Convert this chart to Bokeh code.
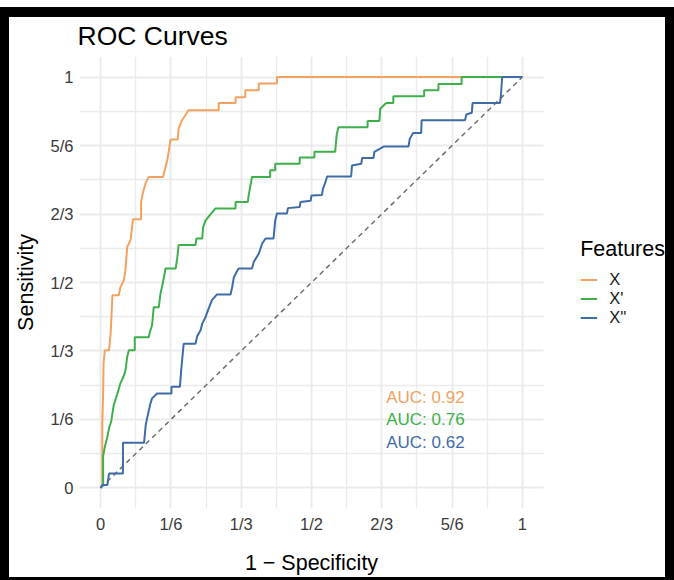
from bokeh.plotting import figure
from bokeh.models import FixedTicker, Legend, LegendItem, LinearAxis, BoxAnnotation, Range1d
from bokeh.embed import file_html
from bokeh.resources import INLINE
from bokeh.core.properties import value

# ---------------- data ----------------
features = ["X", "X'", "X''"]
auc_values = [0.92, 0.76, 0.62]

fpr_x = [0, 0.004, 0.004, 0.006, 0.007, 0.010, 0.020, 0.024, 0.028, 0.043,
         0.047, 0.055, 0.059, 0.063, 0.071, 0.077, 0.096, 0.096, 0.100, 0.107,
         0.114, 0.148, 0.152, 0.158, 0.162, 0.166, 0.183, 0.185, 0.193, 0.201,
         0.208, 0.280, 0.280, 0.320, 0.320, 0.343, 0.343, 0.375, 0.375, 0.418,
         0.418, 1.0]
tpr_x = [0, 0.007, 0.157, 0.230, 0.303, 0.335, 0.335, 0.379, 0.469, 0.469,
         0.488, 0.505, 0.530, 0.586, 0.603, 0.654, 0.654, 0.696, 0.717, 0.742,
         0.757, 0.757, 0.773, 0.797, 0.822, 0.848, 0.848, 0.875, 0.895, 0.907,
         0.919, 0.919, 0.937, 0.937, 0.951, 0.951, 0.968, 0.968, 0.984, 0.984,
         1.0, 1.0]

fpr_x1 = [0, 0.006, 0.006, 0.010, 0.016, 0.020, 0.025, 0.031, 0.040, 0.047,
          0.054, 0.059, 0.063, 0.067, 0.081, 0.081, 0.114, 0.117, 0.122, 0.126,
          0.138, 0.142, 0.148, 0.154, 0.178, 0.182, 0.185, 0.225, 0.227, 0.241,
          0.243, 0.249, 0.259, 0.272, 0.320, 0.320, 0.349, 0.351, 0.359, 0.402,
          0.402, 0.414, 0.414, 0.472, 0.472, 0.507, 0.507, 0.556, 0.560, 0.564,
          0.633, 0.633, 0.661, 0.663, 0.677, 0.694, 0.694, 0.767, 0.767, 0.801,
          0.801, 0.856, 0.856, 1.0]
tpr_x1 = [0, 0.007, 0.077, 0.100, 0.124, 0.145, 0.161, 0.201, 0.230, 0.255,
          0.270, 0.286, 0.319, 0.335, 0.335, 0.367, 0.367, 0.380, 0.396, 0.440,
          0.440, 0.473, 0.501, 0.534, 0.534, 0.562, 0.591, 0.591, 0.607, 0.607,
          0.635, 0.651, 0.664, 0.680, 0.680, 0.696, 0.696, 0.712, 0.757, 0.757,
          0.773, 0.773, 0.789, 0.789, 0.804, 0.804, 0.818, 0.818, 0.862, 0.878,
          0.878, 0.893, 0.893, 0.923, 0.937, 0.937, 0.953, 0.953, 0.968, 0.968,
          0.983, 0.983, 1.0, 1.0]

fpr_x2 = [0, 0.004, 0.016, 0.020, 0.053, 0.053, 0.103, 0.107, 0.111, 0.118,
          0.122, 0.134, 0.168, 0.168, 0.188, 0.191, 0.197, 0.225, 0.229, 0.237,
          0.241, 0.249, 0.253, 0.264, 0.276, 0.308, 0.312, 0.316, 0.327, 0.359,
          0.363, 0.375, 0.383, 0.391, 0.410, 0.414, 0.418, 0.442, 0.444, 0.472,
          0.474, 0.498, 0.500, 0.525, 0.527, 0.532, 0.537, 0.594, 0.596, 0.618,
          0.620, 0.647, 0.649, 0.672, 0.730, 0.733, 0.741, 0.760, 0.761, 0.864,
          0.867, 0.880, 0.882, 0.947, 0.949, 0.952, 1.0]
tpr_x2 = [0, 0.007, 0.007, 0.035, 0.035, 0.110, 0.110, 0.153, 0.173, 0.205,
          0.218, 0.230, 0.230, 0.246, 0.246, 0.286, 0.351, 0.351, 0.369, 0.384,
          0.400, 0.416, 0.428, 0.457, 0.471, 0.471, 0.489, 0.513, 0.534, 0.534,
          0.550, 0.570, 0.595, 0.607, 0.607, 0.651, 0.668, 0.668, 0.681, 0.684,
          0.696, 0.699, 0.712, 0.713, 0.728, 0.741, 0.758, 0.758, 0.785, 0.789,
          0.803, 0.803, 0.818, 0.831, 0.831, 0.850, 0.864, 0.864, 0.895, 0.895,
          0.909, 0.913, 0.937, 0.937, 0.955, 1.0, 1.0]

chance_x = [0, 1]
chance_y = [0, 1]

tick_values = [0, 1/6, 1/3, 1/2, 2/3, 5/6, 1]
tick_labels = ["0", "1/6", "1/3", "1/2", "2/3", "5/6", "1"]
minor_values = [1/12, 3/12, 5/12, 7/12, 9/12, 11/12]

x_title = "1 \u2212 Specificity"
y_title = "Sensitivity"

# ---------------- style / layout ----------------
FONT = "Liberation Sans"
colors = ["#F3A15F", "#3DB04B", "#3E6CA8"]
grid_color = "#EBEBEB"

# canvas (656 x 560) sits at page x=9, y=17, inside a black frame.
W, H = 656, 560
BL, BT, BB = 70, 39, 69
PANEL_W = 464                      # width of the data panel (x from -0.05 to 1.05)
LO, HI = -0.05, 1.05
# the frame is extended to the right edge so the legend can sit in it
x_end = LO + (HI - LO) * (W - BL) / PANEL_W

p = figure(width=W, height=H,
           x_range=Range1d(LO, x_end), y_range=Range1d(LO, HI),
           output_backend="svg", toolbar_location=None,
           min_border_left=BL, min_border_right=0,
           min_border_top=BT, min_border_bottom=BB,
           background_fill_color="white", border_fill_color="white",
           outline_line_color=None,
           styles={"margin-left": "9px", "margin-top": "17px",
                   "box-shadow": "0px -1px 0px 9px black"})

p.title.text = "ROC Curves"
p.title.text_font = FONT
p.title.text_font_size = "26.5px"
p.title.text_font_style = "normal"
p.title.text_color = "black"
p.title.align = "left"
p.title.vertical_align = "top"
p.title.offset = -2
p.title.standoff = 7

xaxis = p.xaxis[0]
yaxis = p.yaxis[0]
for ax in (xaxis, yaxis):
    ax.ticker = FixedTicker(ticks=tick_values, minor_ticks=minor_values)
    ax.major_label_overrides = {v: l for v, l in zip(tick_values, tick_labels)}
    ax.major_label_text_font = FONT
    ax.major_label_text_font_size = "16.5px"
    ax.major_label_text_color = "#3A3A3A"

# second bottom axis carrying the x title, centred on x = 0.5
xtitle_axis = LinearAxis(ticker=FixedTicker(ticks=[0.5], minor_ticks=[]),
                         major_label_overrides={0.5: x_title},
                         major_label_text_font=FONT,
                         major_label_text_font_size="21.5px",
                         major_label_text_color="black",
                         major_label_standoff=15)
p.add_layout(xtitle_axis, "below")

for ax in (xaxis, yaxis, xtitle_axis):
    ax.axis_line_color = None
    ax.major_tick_line_color = None
    ax.minor_tick_line_color = None
    ax.major_tick_out = 0
    ax.minor_tick_out = 0
    ax.major_tick_in = 0
    ax.minor_tick_in = 0

xaxis.major_label_standoff = 6
yaxis.major_label_standoff = 6
yaxis.axis_label = y_title
yaxis.axis_label_text_font = FONT
yaxis.axis_label_text_font_size = "21.5px"
yaxis.axis_label_text_font_style = "normal"
yaxis.axis_label_text_color = "black"
yaxis.axis_label_standoff = 10

for g in (p.xgrid[0], p.ygrid[0]):
    g.grid_line_color = grid_color
    g.grid_line_width = 2
    g.minor_grid_line_color = grid_color
    g.minor_grid_line_width = 1.3

p.line(chance_x, chance_y, line_color="#6E6E6E", line_width=1.5, line_dash="5 4")

series = [(fpr_x, tpr_x), (fpr_x1, tpr_x1), (fpr_x2, tpr_x2)]
items = []
for name, col, (xs, ys) in zip(features, colors, series):
    r = p.line(xs, ys, line_color=col, line_width=2)
    items.append(LegendItem(label=name, renderers=[r]))

# AUC annotations
auc_labels = ["AUC: %.2f" % a for a in auc_values]
auc_y = [0.221, 0.166, 0.111]
p.text(x=[0.677] * 3, y=auc_y, text=auc_labels, text_color=colors,
       text_font=value(FONT), text_font_size="17px",
       text_align="left", text_baseline="middle")

# blank out the grid to the right of the data panel (legend area)
p.add_layout(BoxAnnotation(left=HI, fill_color="white", fill_alpha=1.0,
                           line_color=None))

legend = Legend(items=items, title="Features", location="center_right",
                title_text_font=FONT, title_text_font_size="21.5px",
                title_text_font_style="normal", title_text_color="black",
                title_standoff=8,
                label_text_font=FONT, label_text_font_size="16.5px",
                label_text_color="#1A1A1A",
                glyph_width=17, glyph_height=19, label_height=19,
                label_standoff=12, spacing=0, padding=0, margin=0,
                border_line_color=None, background_fill_alpha=0)
p.add_layout(legend)

open("out.html", "w").write(file_html(p, INLINE))
